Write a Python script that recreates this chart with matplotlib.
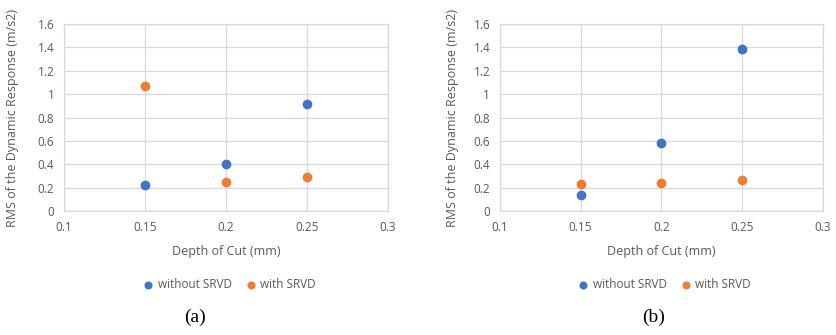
import matplotlib
matplotlib.use("Agg")
import matplotlib.pyplot as plt
from matplotlib.ticker import FixedLocator, FixedFormatter

# data
depth = [0.15, 0.2, 0.25]
a_without = [0.22, 0.40, 0.92]
a_with = [1.07, 0.25, 0.29]
b_without = [0.14, 0.58, 1.39]
b_with = [0.23, 0.24, 0.27]

x_ticks = [0.1, 0.15, 0.2, 0.25, 0.3]
x_labels = ["0.1", "0.15", "0.2", "0.25", "0.3"]
y_ticks = [0, 0.2, 0.4, 0.6, 0.8, 1.0, 1.2, 1.4, 1.6]
y_labels = ["0", "0.2", "0.4", "0.6", "0.8", "1", "1.2", "1.4", "1.6"]

BLUE = "#4472C4"
ORANGE = "#ED7D31"
GRID = "#d9d9d9"
TXT = "#595959"

plt.rcParams["font.family"] = ["Open Sans", "DejaVu Sans"]

fig = plt.figure(figsize=(8.36, 3.35), dpi=100)
ax_a = fig.add_axes([0.0766, 0.370, 0.3876, 0.558])
ax_b = fig.add_axes([0.598, 0.370, 0.386, 0.558])


def panel(ax, without, with_, tag, ylab_x, tag_x):
    ax.scatter(depth, without, s=36, color=BLUE, label="without SRVD", zorder=3)
    ax.scatter(depth, with_, s=36, color=ORANGE, label="with SRVD", zorder=3)
    ax.set_xlim(0.1, 0.3)
    ax.set_ylim(0, 1.6)
    ax.xaxis.set_major_locator(FixedLocator(x_ticks))
    ax.xaxis.set_major_formatter(FixedFormatter(x_labels))
    ax.yaxis.set_major_locator(FixedLocator(y_ticks))
    ax.yaxis.set_major_formatter(FixedFormatter(y_labels))
    ax.grid(True, color=GRID, lw=0.9, zorder=0)
    for s in ax.spines.values():
        s.set_color(GRID)
        s.set_linewidth(0.9)
    ax.tick_params(length=0, labelsize=8.5, labelcolor=TXT, pad=7)
    ax.set_xlabel("Depth of Cut (mm)", fontsize=9, color=TXT, labelpad=8)
    ax.set_ylabel("RMS of the Dynamic Response (m/s2)", fontsize=9, color=TXT)
    ax.yaxis.set_label_coords(ylab_x, 0.5)
    ax.legend(loc="upper center", bbox_to_anchor=(0.5, -0.30), ncol=2,
              frameon=False, fontsize=8.5, labelcolor=TXT, handletextpad=-0.2,
              columnspacing=0.6, markerscale=0.8)
    ax.text(tag_x, -0.57, tag, transform=ax.transAxes, ha="center", va="center",
            fontsize=14, family="Liberation Serif", color="black")


panel(ax_a, a_without, a_with, "(a)", -0.139, 0.404)
panel(ax_b, b_without, b_with, "(b)", -0.127, 0.477)

fig.savefig("out.png", dpi=100)
